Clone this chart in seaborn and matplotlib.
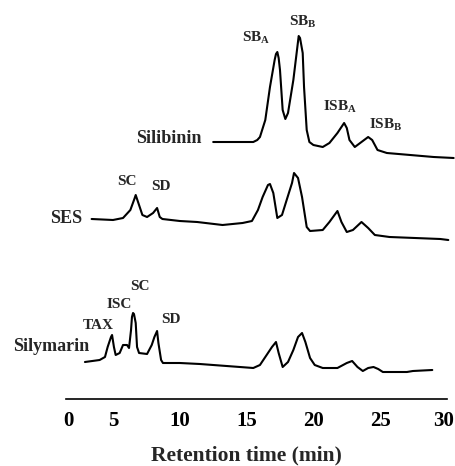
import pandas as pd
import matplotlib
matplotlib.use('Agg')
import matplotlib.pyplot as plt
import matplotlib.transforms as mtransforms
import seaborn as sns

silibinin_t = [12.5, 15.5, 15.8, 16.0, 16.4, 16.75, 17.1, 17.2, 17.3, 17.4, 17.5, 17.7, 17.9, 18.1,
               18.5, 18.8, 18.9, 19.0, 19.2, 19.3, 19.5, 19.7, 20.0, 20.7, 21.2, 21.8, 22.3, 22.5,
               22.7, 23.1, 23.6, 24.1, 24.4, 24.8, 25.5, 29.0, 30.5]
silibinin_s = [0, 0, 2, 5, 22, 55, 82, 88, 90, 84, 72, 32, 23, 29,
               62, 95, 106, 104, 89, 55, 12, 0, -3, -5, -1, 9, 19, 14,
               2, -5, 0, 5, 2, -8, -11, -15, -16]

ses_t = [3.4, 5.0, 5.75, 6.3, 6.6, 6.7, 6.9, 7.2, 7.55, 8.0, 8.3, 8.5, 8.7, 10.0, 11.3, 13.2,
         14.7, 15.4, 15.85, 16.2, 16.6, 16.75, 17.0, 17.3, 17.65, 18.0, 18.4, 18.55, 18.85,
         19.15, 19.5, 19.75, 20.7, 21.2, 21.8, 22.1, 22.5, 22.96, 23.6, 24.1, 24.6, 25.7,
         29.5, 30.1]
ses_s = [0, -1, 1, 9, 20, 24, 16, 4, 2, 6, 11, 2, 0, -2, -3, -6,
         -4, -2, 9, 22, 34, 35, 26, 1, 4, 19, 36, 46, 41,
         22, -8, -12, -11, -3, 8, -3, -13, -11, -3, -9, -16, -18,
         -20, -21]

silymarin_t = [2.9, 4.0, 4.4, 4.6, 4.85, 4.93, 5.07, 5.2, 5.5, 5.75, 6.05, 6.2, 6.35, 6.42, 6.5,
               6.57, 6.7, 6.8, 6.95, 7.55, 7.9, 8.1, 8.3, 8.4, 8.6, 8.74, 10.0, 11.5, 15.5, 16.0,
               16.5, 16.9, 17.2, 17.4, 17.7, 18.1, 18.5, 18.85, 19.15, 19.4, 19.75, 20.1, 20.7,
               21.8, 22.5, 22.9, 23.3, 23.7, 24.1, 24.5, 24.85, 25.2, 27.0, 27.45, 28.9]
silymarin_s = [0, 2, 5, 15, 25, 27, 15, 7, 9, 17, 17, 14, 32, 45, 49,
               48, 39, 15, 9, 8, 17, 25, 31, 19, 2, -1, -1, -2, -6, -3,
               7, 15, 20, 9, -5, 0, 12, 25, 29, 20, 4, -3, -6,
               -6, -1, 1, -5, -9, -6, -5, -7, -10, -10, -9, -8]

amostras = ['Silibinin', 'SES', 'Silymarin']
deslocamento = {'Silibinin': 258, 'SES': 181, 'Silymarin': 38}

df = pd.concat([
    pd.DataFrame({'tempo': silibinin_t, 'sinal': silibinin_s, 'amostra': 'Silibinin'}),
    pd.DataFrame({'tempo': ses_t, 'sinal': ses_s, 'amostra': 'SES'}),
    pd.DataFrame({'tempo': silymarin_t, 'sinal': silymarin_s, 'amostra': 'Silymarin'}),
], ignore_index=True)
df['y'] = df['sinal'] + df['amostra'].map(deslocamento)

# rótulos dos picos: (texto, tempo, altura)
picos = [
    (r'SB$_{\rm A}$', 15.7, 359), (r'SB$_{\rm B}$', 19.2, 375),
    (r'ISB$_{\rm A}$', 21.97, 290), (r'ISB$_{\rm B}$', 25.4, 272),
    ('SC', 6.05, 215), ('SD', 8.57, 210),
    ('SC', 7.02, 110), ('ISC', 5.45, 92), ('TAX', 3.92, 71), ('SD', 9.3, 77),
]
nomes = [('Silibinin', 11.66, 257), ('SES', 2.68, 177), ('Silymarin', 3.2, 49)]

sns.set_style('white')
plt.rcParams['font.family'] = ['Liberation Serif', 'DejaVu Serif']
plt.rcParams['font.weight'] = 'bold'
plt.rcParams['mathtext.fontset'] = 'custom'
plt.rcParams['mathtext.rm'] = 'Liberation Serif:bold'
plt.rcParams['mathtext.bf'] = 'Liberation Serif:bold'

fig = plt.figure(figsize=(4.55, 4.66), dpi=100)
ax = fig.add_axes([0, 0, 1, 1])

for a in amostras:
    sns.lineplot(data=df[df['amostra'] == a], x='tempo', y='y', sort=False,
                 estimator=None, color='black', linewidth=1.5, ax=ax,
                 solid_joinstyle='round', solid_capstyle='round')

for txt, t, h in picos:
    ax.text(t, h, txt, ha='center', va='baseline', fontsize=11, fontweight='bold')
for txt, t, h in nomes:
    ax.text(t, h, txt, ha='right', va='baseline', fontsize=13, fontweight='bold')

ax.set_xlim(-3.458, 30.60)
ax.set_ylim(-66, 400)
ax.set_yticks([])
ax.set_ylabel('')
for s in ['left', 'right', 'top']:
    ax.spines[s].set_visible(False)
ax.spines['bottom'].set_position(('data', 1))
ax.spines['bottom'].set_bounds(1.5, 30)
ax.spines['bottom'].set_linewidth(1.2)
ax.spines['bottom'].set_color('black')

ax.set_xticks([0, 5, 10, 15, 20, 25, 30])
ax.tick_params(axis='x', direction='in', length=3, width=1, colors='black',
               pad=9, labelsize=15)
for lbl in ax.get_xticklabels():
    lbl.set_fontweight('bold')
ax.xaxis.get_major_ticks()[0].tick1line.set_visible(False)
desloc = mtransforms.ScaledTranslation(22 / 100, 0, fig.dpi_scale_trans)
primeiro = ax.xaxis.get_major_ticks()[0].label1
primeiro.set_transform(primeiro.get_transform() + desloc)
# "30" encostado na borda: puxa um pouco para dentro
ultimo = ax.xaxis.get_major_ticks()[-1].label1
ultimo.set_transform(ultimo.get_transform() +
                     mtransforms.ScaledTranslation(-3 / 100, 0, fig.dpi_scale_trans))

ax.set_xlabel('Retention time (min)', fontsize=15.5, fontweight='bold')
ax.xaxis.set_label_coords(0.541, 0.045)

fig.savefig('out.png', dpi=100)
